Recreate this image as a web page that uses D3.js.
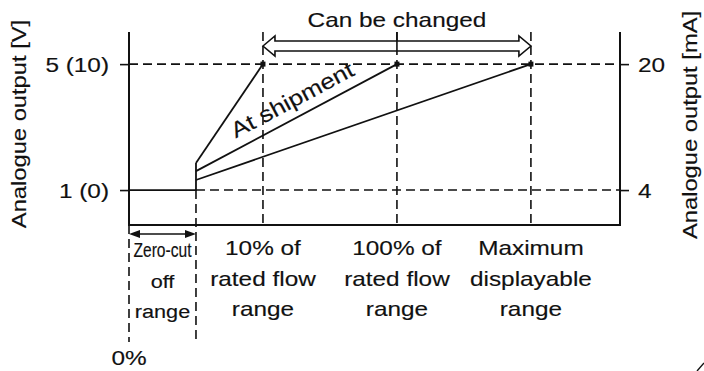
<!DOCTYPE html>
<html>
<head>
<meta charset="utf-8">
<script src="https://cdn.jsdelivr.net/npm/d3@7/dist/d3.min.js"></script>
<style>
  html, body { margin: 0; padding: 0; background: #fff; }
  svg { display: block; }
  text { font-family: "Liberation Sans", Arial, Helvetica, sans-serif; fill: #111; stroke: #111; stroke-width: 0.15px; }
</style>
</head>
<body>
<svg id="chart" width="704" height="371"></svg>
<script>
// Flow axis positions (schematic units) of the reference points
const flowMarks = ["0%", "Zero-cut", "10%", "100%", "Max"];
const flowX = [0, 1, 2, 4, 6];
const flowAxisEnd = 7.33;

// Output axes
const voltTicks = [1, 5];
const voltLabels = ["1 (0)", "5 (10)"];
const voltDomain = [-0.11, 6.02];
const mATicks = [4, 20];
const mALabels = ["4", "20"];

// Output characteristics: each starts at the zero-cut point and reaches full scale
const startVolts = [1.86, 1.60, 1.32];
const endFlowX = [2, 4, 6];
const fullScaleVolt = 5;
const zeroVolt = 1;

// Labels below the flow axis
const rangeLabels = [
  ["10% of", "rated flow", "range"],
  ["100% of", "rated flow", "range"],
  ["Maximum", "displayable", "range"]
];
const zeroCutLabel = ["Zero-cut", "off", "range"];

const svg = d3.select("#chart");
const plot = { left: 129, right: 620, top: 32, bottom: 225 };

const x = d3.scaleLinear().domain([0, flowAxisEnd]).range([plot.left, plot.right]);
const yV = d3.scaleLinear().domain(voltDomain).range([plot.bottom, plot.top]);
// 4-20 mA maps onto 1-5 V
const yA = d3.scaleLinear().domain([4, 20]).range([yV(1), yV(5)]);

const DASH = "9,5";
const SX = 1.16;

function label(parent, str, px, py, opts = {}) {
  const { size = 21, sx = SX, anchor = "middle", rotate = 0 } = opts;
  return parent.append("text")
    .attr("transform", `translate(${px},${py}) rotate(${rotate}) scale(${sx},1)`)
    .attr("text-anchor", anchor)
    .attr("font-size", size)
    .text(str);
}

const g = svg.append("g");

// Dashed reference lines
g.append("line")
  .attr("x1", x(0)).attr("x2", x(flowAxisEnd))
  .attr("y1", yV(fullScaleVolt)).attr("y2", yV(fullScaleVolt))
  .attr("stroke", "#111").attr("stroke-width", 1.6).attr("stroke-dasharray", DASH);
g.append("line")
  .attr("x1", x(flowX[1])).attr("x2", x(flowAxisEnd))
  .attr("y1", yV(zeroVolt)).attr("y2", yV(zeroVolt))
  .attr("stroke", "#111").attr("stroke-width", 1.6).attr("stroke-dasharray", DASH);

[flowX[2], flowX[3], flowX[4]].forEach(fx => {
  g.append("line")
    .attr("x1", x(fx)).attr("x2", x(fx))
    .attr("y1", plot.top).attr("y2", plot.bottom)
    .attr("stroke", "#111").attr("stroke-width", 1.6).attr("stroke-dasharray", DASH);
});

// Zero-cut boundaries continue below the axis
const belowLen = 117;
g.append("line")
  .attr("x1", x(flowX[1])).attr("x2", x(flowX[1]))
  .attr("y1", yV(zeroVolt)).attr("y2", plot.bottom + belowLen)
  .attr("stroke", "#111").attr("stroke-width", 1.6).attr("stroke-dasharray", DASH);
g.append("line")
  .attr("x1", x(flowX[0])).attr("x2", x(flowX[0]))
  .attr("y1", plot.bottom).attr("y2", plot.bottom + belowLen)
  .attr("stroke", "#111").attr("stroke-width", 1.6).attr("stroke-dasharray", DASH);

// Frame: left axis, bottom, right axis
g.append("path")
  .attr("d", `M${plot.left},${plot.top}V${plot.bottom}H${plot.right}V${plot.top}`)
  .attr("fill", "none").attr("stroke", "#111").attr("stroke-width", 2);

// Left axis ticks (V)
const axL = g.append("g").attr("transform", `translate(${plot.left},0)`)
  .call(d3.axisLeft(yV).tickValues(voltTicks).tickFormat((d, i) => voltLabels[i]).tickSize(9));
axL.select(".domain").remove();
axL.selectAll(".tick line").attr("stroke", "#111").attr("stroke-width", 1.6);
axL.selectAll(".tick text")
  .attr("x", null).attr("dy", null)
  .attr("font-size", 21).attr("fill", "#111")
  .attr("font-family", "Liberation Sans, Arial, sans-serif")
  .attr("transform", `translate(-20,7.5) scale(${SX},1)`);

// Right axis ticks (mA)
const axR = g.append("g").attr("transform", `translate(${plot.right},0)`)
  .call(d3.axisRight(yA).tickValues(mATicks).tickFormat((d, i) => mALabels[i]).tickSize(9));
axR.select(".domain").remove();
axR.selectAll(".tick line").attr("stroke", "#111").attr("stroke-width", 1.6);
axR.selectAll(".tick text")
  .attr("x", null).attr("dy", null)
  .attr("font-size", 21).attr("fill", "#111")
  .attr("font-family", "Liberation Sans, Arial, sans-serif")
  .attr("transform", `translate(18,7.5) scale(${SX},1)`);

// Output below zero-cut, then the jump at the zero-cut point
const stepLine = d3.line().x(d => x(d[0])).y(d => yV(d[1]));
g.append("path")
  .attr("d", stepLine([[flowX[0], zeroVolt], [flowX[1], zeroVolt], [flowX[1], d3.max(startVolts)]]))
  .attr("fill", "none").attr("stroke", "#111").attr("stroke-width", 1.8);

// Output characteristics
startVolts.forEach((v, i) => {
  g.append("path")
    .attr("d", stepLine([[flowX[1], v], [endFlowX[i], fullScaleVolt]]))
    .attr("fill", "none").attr("stroke", "#111").attr("stroke-width", 1.8);
  g.append("rect")
    .attr("x", x(endFlowX[i]) - 2.5).attr("y", yV(fullScaleVolt) - 2.5)
    .attr("width", 5).attr("height", 5).attr("fill", "#111");
});

// "At shipment" along the middle characteristic
{
  const x0 = x(flowX[1]), y0 = yV(startVolts[1]);
  const x1 = x(endFlowX[1]), y1 = yV(fullScaleVolt);
  const ang = Math.atan2(y1 - y0, x1 - x0);
  const t = 0.52;
  const off = 10;
  const px = x0 + (x1 - x0) * t + Math.sin(ang) * off;
  const py = y0 + (y1 - y0) * t - Math.cos(ang) * off;
  label(g, "At shipment", px, py, { size: 22, sx: 1.17, rotate: ang * 180 / Math.PI });
}

// "Can be changed" hollow double arrow
{
  const xa = x(flowX[2]), xb = x(flowX[4]);
  const yc = 46, hs = 5, hh = 10, hl = 12;
  const pts = [
    [xa, yc], [xa + hl, yc - hh], [xa + hl, yc - hs], [xb - hl, yc - hs], [xb - hl, yc - hh],
    [xb, yc], [xb - hl, yc + hh], [xb - hl, yc + hs], [xa + hl, yc + hs], [xa + hl, yc + hh]
  ];
  g.append("path")
    .attr("d", "M" + pts.map(p => p.join(",")).join("L") + "Z")
    .attr("fill", "#fff").attr("stroke", "#111").attr("stroke-width", 1.6)
    .attr("stroke-linejoin", "miter");
  // middle reference line passes over the arrow
  g.append("line")
    .attr("x1", x(flowX[3])).attr("x2", x(flowX[3]))
    .attr("y1", plot.top).attr("y2", yc + hs)
    .attr("stroke", "#111").attr("stroke-width", 1.6);
  label(g, "Can be changed", (xa + xb) / 2, 27);
}

// Zero-cut range arrow below the axis (filled heads)
{
  const xa = x(flowX[0]), xb = x(flowX[1]), ya = 234;
  g.append("line").attr("x1", xa + 8).attr("x2", xb - 8).attr("y1", ya).attr("y2", ya)
    .attr("stroke", "#111").attr("stroke-width", 1.6);
  g.append("path").attr("d", `M${xa},${ya}L${xa + 11},${ya - 4}L${xa + 11},${ya + 4}Z`).attr("fill", "#111");
  g.append("path").attr("d", `M${xb},${ya}L${xb - 11},${ya - 4}L${xb - 11},${ya + 4}Z`).attr("fill", "#111");
}

// Range labels
const baselines = [255, 286, 316];
rangeLabels.forEach((lines, i) => {
  lines.forEach((s, j) => label(g, s, x(endFlowX[i]), baselines[j]));
});
const zc = (x(flowX[0]) + x(flowX[1])) / 2;
label(g, zeroCutLabel[0], zc, 257, { size: 20, sx: 0.78 });
label(g, zeroCutLabel[1], zc, 288, { size: 19, sx: 1.14 });
label(g, zeroCutLabel[2], zc, 318, { size: 19, sx: 1.14 });
label(g, flowMarks[0], x(flowX[0]), 365);

// Axis titles
label(g, "Analogue output [V]", 26, 124, { rotate: -90, sx: 1.13 });
label(g, "Analogue output [mA]", 697, 125, { rotate: -90, sx: 1.13 });

// Corner stroke
g.append("line").attr("x1", 697).attr("y1", 371).attr("x2", 704).attr("y2", 363)
  .attr("stroke", "#111").attr("stroke-width", 1.4);
</script>
</body>
</html>
